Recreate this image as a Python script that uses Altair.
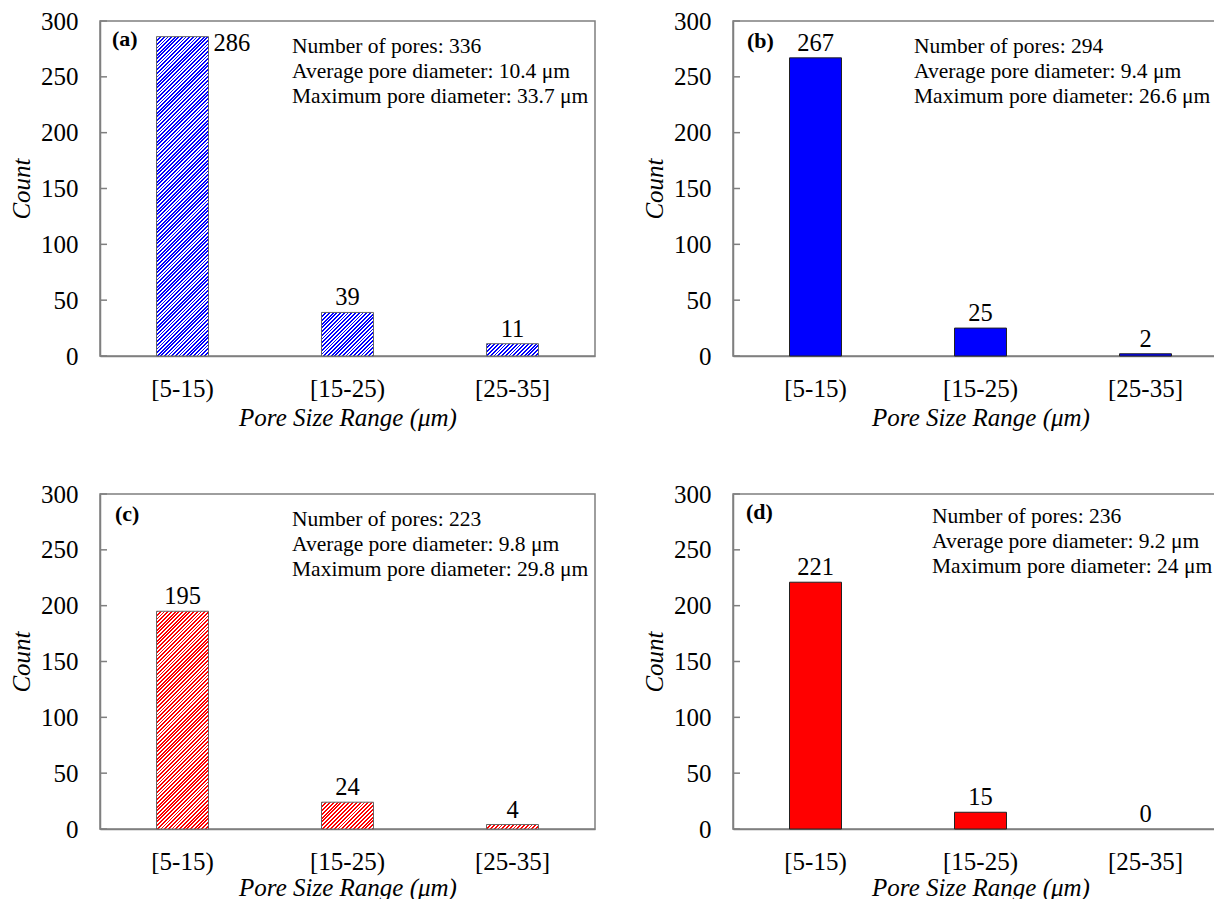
import altair as alt
import pandas as pd

# ---------------- data ----------------
categories = ["[5-15)", "[15-25)", "[25-35]"]
counts_a = [286, 39, 11]
counts_b = [267, 25, 2]
counts_c = [195, 24, 4]
counts_d = [221, 15, 0]
tags = ["(a)", "(b)", "(c)", "(d)"]
stats_a = ["Number of pores: 336", "Average pore diameter: 10.4 μm", "Maximum pore diameter: 33.7 μm"]
stats_b = ["Number of pores: 294", "Average pore diameter: 9.4 μm", "Maximum pore diameter: 26.6 μm"]
stats_c = ["Number of pores: 223", "Average pore diameter: 9.8 μm", "Maximum pore diameter: 29.8 μm"]
stats_d = ["Number of pores: 236", "Average pore diameter: 9.2 μm", "Maximum pore diameter: 24 μm"]
y_ticks = [0, 50, 100, 150, 200, 250, 300]
x_title = "Pore Size Range (μm)"
y_title = "Count"

# ---------------- style ----------------
FONT = "Liberation Serif"
AX_FS = 25
W, H = 495, 335
BAR_W = 52
YMAX = 300
GRAY = "#7f7f7f"
BLUE = "#0000ff"
RED = "#ff0000"


def hatch(color, h, w=BAR_W, target=3.8, frac=0.5):
    """Diagonal '/' hatch as a striped linear gradient over the bar's bbox.
    The stripe period is snapped to the 256-step gradient ramp to avoid beating."""
    L = w + h
    kk = max(1, round(2 * target * 256 / L)) / 2
    period = kk * L / 256
    k = L / (w * w + h * h)
    stops = []
    i = 0
    while True:
        a = i * period / L
        if a >= 1:
            break
        b = min((i * period + period * frac) / L, 1)
        c = min((i + 1) * period / L, 1)
        stops.append({"offset": a, "color": color})
        stops.append({"offset": b, "color": color})
        if b < 1:
            stops.append({"offset": b, "color": "#ffffff"})
            stops.append({"offset": c, "color": "#ffffff"})
        i += 1
    return alt.LinearGradient(gradient="linear", stops=stops, x1=0, y1=0, x2=k * w, y2=k * h)


def panel(counts, tag, stats, color, hatched, stats_x, stats_top, tag_x, tag_y,
          side_min=None, x_title_pad=1):
    df = pd.DataFrame({"size_range": categories, "count": counts})
    tick_df = pd.DataFrame({"count": y_ticks})
    pin = 1 - BAR_W / (W / 3)
    xs = alt.Scale(domain=categories, paddingInner=pin, paddingOuter=pin / 2)
    ys = alt.Scale(domain=[0, YMAX], nice=False)
    x_axis = alt.Axis(title=x_title, ticks=False, labelAngle=0, labelFont=FONT, labelFontSize=AX_FS,
                      labelColor="black", labelPadding=20, titleFont=FONT, titleFontSize=AX_FS,
                      titleFontStyle="italic", titleFontWeight="normal", titleColor="black",
                      titlePadding=x_title_pad, domainColor=GRAY, domainWidth=1.5, grid=False)
    y_axis = alt.Axis(title=y_title, values=y_ticks, ticks=False, labelFont=FONT, labelFontSize=AX_FS,
                      labelColor="black", labelPadding=22, titleFont=FONT, titleFontSize=AX_FS,
                      titleFontStyle="italic", titleFontWeight="normal", titleColor="black",
                      titlePadding=6, domainColor=GRAY, domainWidth=1.5, grid=False)

    def X(ax):
        return alt.X("size_range:N", sort=categories, scale=xs, axis=ax)

    def Y(ax):
        return alt.Y("count:Q", scale=ys, axis=ax)

    layers = [
        alt.Chart(df).mark_bar(opacity=0).encode(x=X(x_axis), y=Y(y_axis)),
        # inward-pointing y ticks
        alt.Chart(tick_df).mark_tick(orient="horizontal", size=7, thickness=1.5, color=GRAY, opacity=1)
        .encode(y=Y(None), x=alt.value(3.5)),
    ]
    if hatched:
        for cat, v in zip(categories, counts):
            if v <= 0:
                continue
            layers.append(
                alt.Chart(df).transform_filter(alt.datum.size_range == cat)
                .mark_bar(fill=hatch(color, v * H / YMAX), stroke="#666666", strokeWidth=1)
                .encode(x=X(None), y=Y(None))
            )
    else:
        layers.append(
            alt.Chart(df).transform_filter(alt.datum.count > 0)
            .mark_bar(fill=color, stroke="#222222", strokeWidth=1)
            .encode(x=X(None), y=Y(None))
        )

    if side_min is None:
        top_lab = alt.Chart(df)
    else:
        top_lab = alt.Chart(df).transform_filter(alt.datum.count < side_min)
        layers.append(
            alt.Chart(df).transform_filter(alt.datum.count >= side_min)
            .mark_text(font=FONT, fontSize=24.5, align="left", baseline="middle", dx=BAR_W / 2 + 5, dy=7, color="black")
            .encode(x=X(None), y=Y(None), text="count:Q")
        )
    layers.append(
        top_lab.mark_text(font=FONT, fontSize=24.5, baseline="alphabetic", dy=-7, color="black")
        .encode(x=X(None), y=Y(None), text="count:Q")
    )

    one = pd.DataFrame({"k": [0]})
    layers.append(
        alt.Chart(one).mark_text(text=tag, font=FONT, fontSize=22, fontWeight="bold", align="left",
                                 baseline="middle", color="black")
        .encode(x=alt.value(tag_x), y=alt.value(tag_y))
    )
    layers.append(
        alt.Chart(one).mark_text(text=stats, lineHeight=25, font=FONT, fontSize=21.5, align="left",
                                 baseline="top", color="black")
        .encode(x=alt.value(stats_x), y=alt.value(stats_top))
    )
    return alt.layer(*layers).resolve_axis(x="independent", y="independent").properties(width=W, height=H)


pa = panel(counts_a, tags[0], stats_a, BLUE, True, 192, 15, 12, 18, side_min=280, x_title_pad=4)
pb = panel(counts_b, tags[1], stats_b, BLUE, False, 181, 15, 14, 20, x_title_pad=4)
pc = panel(counts_c, tags[2], stats_c, RED, True, 192, 15, 15, 20, x_title_pad=1)
pd_ = panel(counts_d, tags[3], stats_d, RED, False, 199, 12, 13, 18, x_title_pad=1)

top = alt.hconcat(pa, pb, spacing=45)
bottom = alt.hconcat(pc, pd_, spacing=45)
chart = (
    alt.vconcat(top, bottom, spacing=50)
    .properties(padding={"left": 0, "top": 0, "right": -15, "bottom": -2}, background="white")
    .configure_view(stroke=GRAY, strokeWidth=1.5)
)

chart.save("out.html", embed_options={"renderer": "svg", "actions": False})
